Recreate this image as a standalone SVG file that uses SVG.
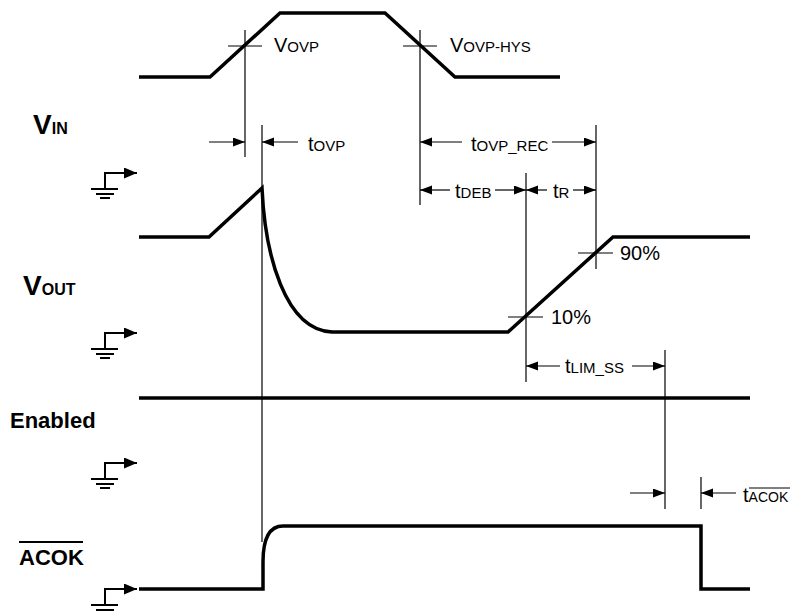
<svg xmlns="http://www.w3.org/2000/svg" width="796" height="611" viewBox="0 0 796 611">
<style>
.wave{fill:none;stroke:#000;stroke-width:3.5;stroke-linejoin:miter}
.thin{fill:none;stroke:#000;stroke-width:1.2}
.dim{fill:none;stroke:#000;stroke-width:1.2}
.gnd{fill:none;stroke:#000;stroke-width:2}
.lbl{font-family:"Liberation Sans",Arial,sans-serif;font-weight:bold;fill:#000}
.t{font-family:"Liberation Sans",Arial,sans-serif;font-size:20px;fill:#000}
.sub{font-size:15px}
</style>
<defs>
<marker id="ah" markerUnits="userSpaceOnUse" markerWidth="13" markerHeight="10" refX="12" refY="4.5" orient="auto">
<path d="M0,0 L12,4.5 L0,9 z" fill="#000"/>
</marker>
<marker id="gah" markerUnits="userSpaceOnUse" markerWidth="14" markerHeight="12" refX="13" refY="5.5" orient="auto">
<path d="M0,0 L13,5.5 L0,11 z" fill="#000"/>
</marker>
<g id="gsym">
<path d="M0,16 H-14 M0,16 V0 H32" class="gnd" marker-end="url(#gah)"/>
<path d="M-14,16 H13 M-9,21 H9 M-5,25 H5" class="gnd"/>
</g>
</defs>

<g id="labels">
<text class="lbl" x="33" y="134"><tspan font-size="28">V</tspan><tspan font-size="16">IN</tspan></text>
<text class="lbl" x="23" y="295"><tspan font-size="28">V</tspan><tspan font-size="16">OUT</tspan></text>
<text class="lbl" x="10" y="428" font-size="22">Enabled</text>
<text class="lbl" x="19" y="565" font-size="22">ACOK</text>
<line x1="19" y1="542" x2="83" y2="542" stroke="#000" stroke-width="2"/>
</g>

<g id="grounds">
<use href="#gsym" x="105" y="173"/>
<use href="#gsym" x="105" y="333"/>
<use href="#gsym" x="105" y="463"/>
<use href="#gsym" x="105" y="589"/>
</g>

<g id="waveforms">
<path id="vin" class="wave" d="M139,77 H210 L280,13 H385 L455,77 H560"/>
<path id="vout" class="wave" d="M139,237 H209 L262,188 C265,255 285,330 332,332 H508 L613,237 H750"/>
<path id="enabled" class="wave" d="M139,398 H750"/>
<path id="acok" class="wave" d="M139,589 H263 V562 C263,540 268,526 283,526 H701 V589 H750"/>
</g>

<g id="connectors">
<line class="thin" x1="245" y1="30" x2="245" y2="157"/>
<line class="thin" x1="228" y1="46" x2="262" y2="46"/>
<line class="thin" x1="420" y1="30" x2="420" y2="205"/>
<line class="thin" x1="403" y1="46" x2="437" y2="46"/>
<line class="thin" x1="262" y1="125" x2="262" y2="542"/>
<line class="thin" x1="596" y1="125" x2="596" y2="269"/>
<line class="thin" x1="578" y1="253" x2="613" y2="253"/>
<line class="thin" x1="526" y1="173" x2="526" y2="382"/>
<line class="thin" x1="508" y1="317" x2="543" y2="317"/>
<line class="thin" x1="665" y1="350" x2="665" y2="509"/>
<line class="thin" x1="701" y1="477" x2="701" y2="509"/>

<line class="dim" x1="209" y1="142" x2="245" y2="142" marker-end="url(#ah)"/>
<line class="dim" x1="298" y1="142" x2="262" y2="142" marker-end="url(#ah)"/>

<line class="dim" x1="462" y1="142" x2="420" y2="142" marker-end="url(#ah)"/>
<line class="dim" x1="552" y1="142" x2="596" y2="142" marker-end="url(#ah)"/>

<line class="dim" x1="450" y1="190" x2="420" y2="190" marker-end="url(#ah)"/>
<line class="dim" x1="495" y1="190" x2="526" y2="190" marker-end="url(#ah)"/>
<line class="dim" x1="547" y1="190" x2="526" y2="190" marker-end="url(#ah)"/>
<line class="dim" x1="573" y1="190" x2="596" y2="190" marker-end="url(#ah)"/>

<line class="dim" x1="560" y1="366" x2="526" y2="366" marker-end="url(#ah)"/>
<line class="dim" x1="632" y1="366" x2="665" y2="366" marker-end="url(#ah)"/>

<line class="dim" x1="630" y1="493" x2="665" y2="493" marker-end="url(#ah)"/>
<line class="dim" x1="736" y1="493" x2="701" y2="493" marker-end="url(#ah)"/>
</g>

<g id="annotations">
<text class="t" x="274" y="52">V<tspan class="sub">OVP</tspan></text>
<text class="t" x="450" y="52">V<tspan class="sub">OVP-HYS</tspan></text>
<text class="t" x="308" y="151">t<tspan class="sub">OVP</tspan></text>
<text class="t" x="471" y="151">t<tspan class="sub">OVP_REC</tspan></text>
<text class="t" x="455" y="198">t<tspan class="sub">DEB</tspan></text>
<text class="t" x="553" y="198">t<tspan class="sub">R</tspan></text>
<text class="t" x="620" y="260">90%</text>
<text class="t" x="551" y="324">10%</text>
<text class="t" x="565" y="373">t<tspan class="sub">LIM_SS</tspan></text>
<text class="t" x="743" y="502">t<tspan font-size="14px">ACOK</tspan></text>
<line x1="749" y1="488" x2="790" y2="488" stroke="#000" stroke-width="1.2"/>
</g>
</svg>
